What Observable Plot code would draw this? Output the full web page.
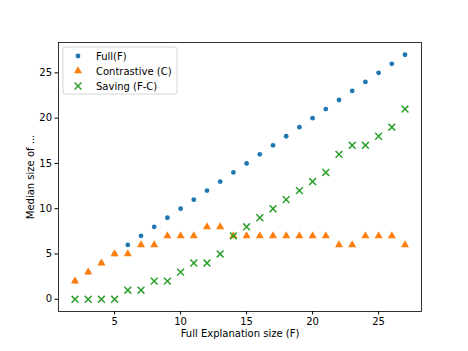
<!DOCTYPE html>
<html>
<head>
<meta charset="utf-8">
<script src="https://cdn.jsdelivr.net/npm/d3@7"></script>
<script src="https://cdn.jsdelivr.net/npm/@observablehq/plot@0.6"></script>
<style>
  html, body { margin: 0; padding: 0; background: #fff; }
  #chart { width: 468px; height: 351px; }
  svg { font-family: "DejaVu Sans", sans-serif; }
</style>
</head>
<body>
<div id="chart"></div>
<script>
const fullSize = [2,3,4,5,6,7,8,9,10,11,12,13,14,15,16,17,18,19,20,21,22,23,24,25,26,27];
const fullMedian = [2,3,4,5,6,7,8,9,10,11,12,13,14,15,16,17,18,19,20,21,22,23,24,25,26,27];
const contrastive = [2,3,4,5,5,6,6,7,7,7,8,8,7,7,7,7,7,7,7,7,6,6,7,7,7,6];
const saving = [0,0,0,0,1,1,2,2,3,4,4,5,7,8,9,10,11,12,13,14,16,17,17,18,19,21];
const xTicks = [5,10,15,20,25];
const yTicks = [0,5,10,15,20,25];
const seriesNames = ["Full(F)", "Contrastive (C)", "Saving (F-C)"];
const seriesColors = ["#1f77b4", "#ff7f0e", "#2ca02c"];
const seriesSymbols = ["circle", "triangle", "times"];

const rows = fullSize.map((x, i) => ({x, f: fullMedian[i], c: contrastive[i], s: saving[i]}));

const W = 468, H = 351;
const chart = Plot.plot({
  width: W, height: H,
  marginLeft: 58, marginRight: 47, marginTop: 42, marginBottom: 40,
  style: {fontFamily: "DejaVu Sans, sans-serif", fontSize: "10px", color: "#000", background: "#fff"},
  x: {domain: [0.75, 28.25], ticks: xTicks, label: null},
  y: {domain: [-1.35, 28.35], ticks: yTicks, label: null},
  marks: [
    Plot.frame({stroke: "#000", strokeWidth: 0.8}),
    Plot.axisX({ticks: xTicks, tickSize: 3.5, tickPadding: 3, fontSize: 10, label: null}),
    Plot.axisY({ticks: yTicks, tickSize: 3.5, tickPadding: 3, fontSize: 10, label: null}),
    Plot.dot(rows, {x: "x", y: "f", r: 2.4, fill: seriesColors[0], symbol: "circle"}),
    Plot.dot(rows, {x: "x", y: "c", r: 3, fill: seriesColors[1], symbol: "triangle"}),
    Plot.dot(rows, {x: "x", y: "s", r: 3.2, stroke: seriesColors[2], strokeWidth: 1.5, symbol: "times"})
  ]
});
document.getElementById("chart").appendChild(chart);

// axis titles and legend
const svg = d3.select(chart);
svg.append("text").attr("x", 240).attr("y", 337).attr("text-anchor", "middle")
  .attr("font-size", 10).attr("fill", "#000").text("Full Explanation size (F)");
svg.append("text").attr("transform", "translate(34,177) rotate(-90)").attr("text-anchor", "middle")
  .attr("font-size", 10).attr("fill", "#000").text("Median size of ...");

const lg = svg.append("g").attr("transform", "translate(63,47)");
lg.append("rect").attr("x", 0).attr("y", 0).attr("width", 114).attr("height", 47)
  .attr("rx", 2).attr("fill", "#fff").attr("fill-opacity", 0.8).attr("stroke", "#ccc").attr("stroke-width", 0.8);
seriesNames.forEach((name, i) => {
  const cy = 9 + i * 15;
  const sym = d3.symbol().type({circle: d3.symbolCircle, triangle: d3.symbolTriangle, times: d3.symbolTimes}[seriesSymbols[i]])
    .size([Math.PI * 2.4 * 2.4, Math.PI * 9, Math.PI * 3.2 * 3.2][i]);
  const p = lg.append("path").attr("d", sym()).attr("transform", `translate(15,${cy})`);
  if (seriesSymbols[i] === "times") p.attr("fill", "none").attr("stroke", seriesColors[i]).attr("stroke-width", 1.5);
  else p.attr("fill", seriesColors[i]);
  lg.append("text").attr("x", 33).attr("y", cy + 3.5).attr("text-anchor", "start")
    .attr("font-size", 10).attr("fill", "#000").text(name);
});
</script>
</body>
</html>
